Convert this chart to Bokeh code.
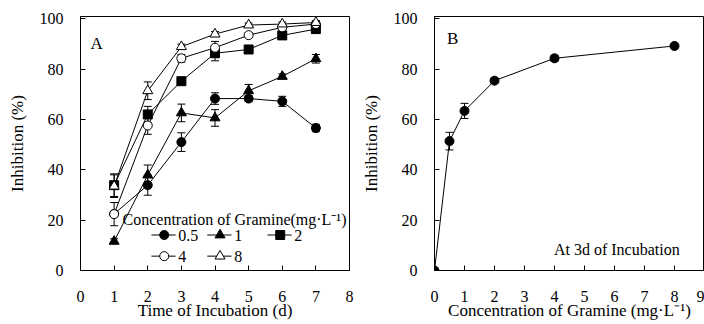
from bokeh.plotting import figure
from bokeh.layouts import row
from bokeh.models import ColumnDataSource, Whisker, TeeHead, FixedTicker
from bokeh.core.properties import value
from bokeh.embed import file_html
from bokeh.resources import INLINE

FONT = "Liberation Serif"

# ---- Panel A data: inhibition (%) vs time of incubation (d) ----
days = [1, 2, 3, 4, 5, 6, 7]
inh_05 = [22.5, 33.9, 51.0, 68.3, 68.3, 67.2, 56.6]
err_05 = [0.0, 4.0, 3.7, 2.3, 1.2, 2.0, 1.5]
inh_1 = [11.6, 37.9, 62.6, 60.6, 71.4, 77.1, 84.1]
err_1 = [1.0, 4.0, 3.5, 3.3, 2.5, 1.0, 1.7]
inh_2 = [33.9, 62.0, 75.2, 86.3, 87.8, 93.4, 95.9]
err_2 = [4.5, 3.2, 1.0, 3.0, 1.0, 1.0, 1.0]
inh_4 = [22.4, 57.6, 84.3, 88.5, 93.5, 96.6, 97.9]
err_4 = [4.6, 3.5, 1.5, 2.5, 0.8, 0.8, 0.8]
inh_8 = [33.5, 71.4, 88.9, 93.9, 97.5, 97.9, 98.5]
err_8 = [4.5, 3.5, 1.0, 1.0, 0.8, 0.8, 0.8]
legend_labels = ["0.5", "1", "2", "4", "8"]

# ---- Panel B data: inhibition (%) at 3d vs concentration ----
conc = [0.0, 0.5, 1.0, 2.0, 4.0, 8.0]
inh_b = [0.0, 51.4, 63.4, 75.4, 84.3, 89.2]
err_b = [0.0, 3.5, 3.0, 1.0, 1.2, 0.5]

x_ticks_a = [0, 1, 2, 3, 4, 5, 6, 7, 8]
x_ticks_b = [0, 1, 2, 3, 4, 5, 6, 7, 8, 9]
y_ticks = [0, 20, 40, 60, 80, 100]


def style(p, xticks):
    p.xgrid.visible = False
    p.ygrid.visible = False
    p.outline_line_color = "black"
    p.outline_line_width = 1
    p.background_fill_color = "white"
    p.border_fill_color = "white"
    p.xaxis.ticker = FixedTicker(ticks=xticks)
    p.yaxis.ticker = FixedTicker(ticks=y_ticks)
    for ax in (p.xaxis[0], p.yaxis[0]):
        ax.axis_line_color = "black"
        ax.major_tick_in = 5
        ax.major_tick_out = 0
        ax.major_tick_line_color = "black"
        ax.minor_tick_line_color = None
        ax.major_label_text_font = FONT
        ax.major_label_text_font_size = "16px"
        ax.major_label_text_color = "black"
        ax.axis_label_text_font = FONT
        ax.axis_label_text_font_size = "17px"
        ax.axis_label_text_font_style = "normal"
        ax.axis_label_text_color = "black"
    p.xaxis.major_label_standoff = 20
    p.yaxis.major_label_standoff = 17
    p.xaxis.axis_label_standoff = -4
    p.yaxis.axis_label_standoff = 10


def add_err(p, xs, ys, es):
    xx, up, lo = [], [], []
    for x, y, e in zip(xs, ys, es):
        if e > 0:
            xx.append(x)
            up.append(y + e)
            lo.append(y - e)
    src = ColumnDataSource(dict(x=xx, upper=up, lower=lo))
    w = Whisker(source=src, base="x", upper="upper", lower="lower",
                line_color="black", line_width=1,
                upper_head=TeeHead(size=8, line_color="black", line_width=1),
                lower_head=TeeHead(size=8, line_color="black", line_width=1))
    p.add_layout(w)


# ---------------- Panel A ----------------
pa = figure(width=355, height=324, x_range=(0, 8), y_range=(0, 100.9),
            output_backend="svg", toolbar_location=None,
            min_border_left=80, min_border_right=6, min_border_top=16,
            min_border_bottom=54)
style(pa, x_ticks_a)
pa.xaxis.axis_label = "Time of Incubation (d)"
pa.yaxis.axis_label = "Inhibition (%)"

series = [
    (inh_05, err_05, "circle", "black", 9),
    (inh_1, err_1, "triangle", "black", 10),
    (inh_2, err_2, "square", "black", 9),
    (inh_4, err_4, "circle", "white", 9),
    (inh_8, err_8, "triangle", "white", 10),
]
for ys, es, mk, fill, sz in series:
    add_err(pa, days, ys, es)
    pa.line(days, ys, line_color="black", line_width=1)
for ys, es, mk, fill, sz in series:
    pa.scatter(days, ys, marker=mk, size=sz, fill_color=fill,
               line_color="black", line_width=1)

# legend (manual)
pa.text(x=[1.25], y=[20.4], text=["Concentration of Gramine(mg·L⁻¹)"],
        text_font=value(FONT), text_font_size="16px", text_color="black",
        text_baseline="middle", text_align="left")
leg_pos = [(2.11, 14.1), (3.77, 14.1), (5.56, 14.1), (2.11, 5.7), (3.77, 5.7)]
for (lx, ly), lab, (ys, es, mk, fill, sz) in zip(leg_pos, legend_labels, series):
    pa.line([lx, lx + 0.72], [ly, ly], line_color="black", line_width=1)
    pa.scatter([lx + 0.38], [ly], marker=mk, size=sz, fill_color=fill,
               line_color="black", line_width=1)
    pa.text(x=[lx + 0.8], y=[ly], text=[lab], text_font=value(FONT),
            text_font_size="16px", text_color="black",
            text_baseline="middle", text_align="left")

pa.text(x=[0.3], y=[90.2], text=["A"], text_font=value(FONT),
        text_font_size="17px", text_color="black",
        text_baseline="middle", text_align="left")

# ---------------- Panel B ----------------
pb = figure(width=349, height=324, x_range=(0, 9), y_range=(0, 100.9),
            output_backend="svg", toolbar_location=None,
            min_border_left=79, min_border_right=0, min_border_top=16,
            min_border_bottom=54)
style(pb, x_ticks_b)
pb.xaxis.axis_label = "Concentration of Gramine (mg·L⁻¹)"
pb.yaxis.axis_label = "Inhibition (%)"
add_err(pb, conc, inh_b, err_b)
pb.line(conc, inh_b, line_color="black", line_width=1)
pb.scatter(conc, inh_b, marker="circle", size=9, fill_color="black",
           line_color="black")
pb.text(x=[0.42], y=[92], text=["B"], text_font=value(FONT),
        text_font_size="17px", text_color="black",
        text_baseline="middle", text_align="left")
pb.text(x=[3.98], y=[8.3], text=["At 3d of Incubation"], text_font=value(FONT),
        text_font_size="16px", text_color="black",
        text_baseline="middle", text_align="left")

layout = row(pa, pb)
open("out.html", "w").write(file_html(layout, INLINE))
